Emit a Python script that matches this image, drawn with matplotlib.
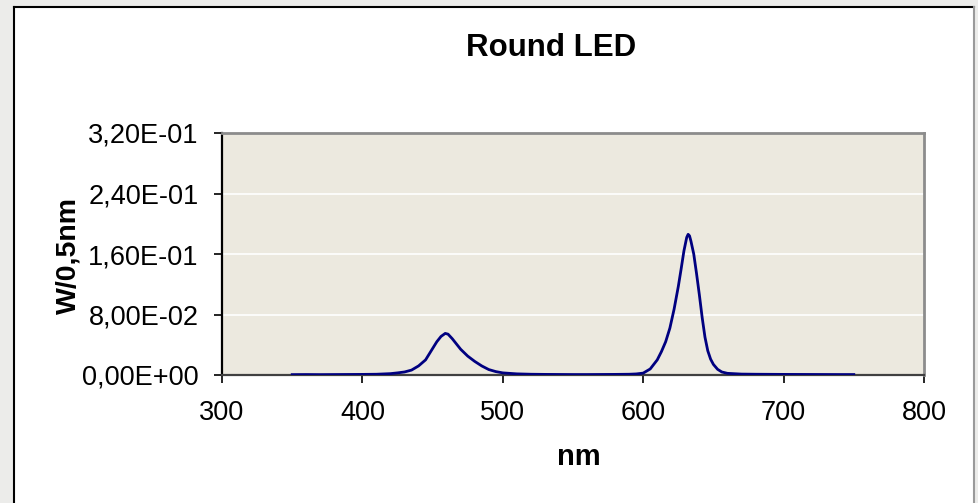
import numpy as np
import matplotlib.pyplot as plt
from matplotlib.patches import Rectangle
from matplotlib.ticker import FuncFormatter, MultipleLocator

plt.rcParams['font.family'] = ['Liberation Sans', 'DejaVu Sans']

# emission spectrum, wavelength in nm and power per 0.5 nm bin
wavelength = [350, 360, 370, 380, 390, 400, 410, 420, 425, 430, 435, 440, 445,
              450, 453, 456, 459, 461, 464, 467, 470, 475, 480, 485, 490, 495,
              500, 510, 520, 530, 540, 550, 560, 570, 580, 590, 595, 600, 605,
              610, 613, 616, 619, 622, 625, 627, 629, 631, 632, 633, 634, 636,
              638, 640, 642, 644, 646, 648, 650, 653, 656, 660, 670, 680, 700,
              720, 740, 750]
power = [0.0005, 0.0006, 0.0005, 0.0006, 0.0007, 0.0008, 0.0010, 0.0018,
         0.0028, 0.0040, 0.0065, 0.0120, 0.0200, 0.0350, 0.0440, 0.0510,
         0.0550, 0.0540, 0.0480, 0.0410, 0.0340, 0.0250, 0.0180, 0.0120,
         0.0072, 0.0045, 0.0028, 0.0015, 0.0010, 0.0008, 0.0007, 0.0006,
         0.0006, 0.0007, 0.0008, 0.0010, 0.0014, 0.0025, 0.0080, 0.0200,
         0.0310, 0.0440, 0.0620, 0.0870, 0.1170, 0.1400, 0.1640, 0.1820,
         0.1860, 0.1840, 0.1770, 0.1600, 0.1340, 0.1060, 0.0760, 0.0500,
         0.0320, 0.0210, 0.0140, 0.0075, 0.0040, 0.0022, 0.0012, 0.0010,
         0.0008, 0.0007, 0.0006, 0.0006]

title = "Round LED"
x_label = "nm"
y_label = "W/0,5nm"

fig = plt.figure(figsize=(9.79, 5.03), dpi=100, facecolor="#ECECEA")

# white chart box with its frame, kept behind the axes
box = Rectangle((14 / 979, -0.05), 960 / 979, 1.05 - 7 / 503,
                transform=fig.transFigure, facecolor="white",
                edgecolor="none", zorder=-10)
fig.patches.append(box)
top = 1 - 7 / 503
frame = [([14, 14], [0, top], "black"),
         ([14, 974], [top, top], "black"),
         ([974, 974], [0, top], "#9a9a9a")]
for xs, ys, c in frame:
    fig.add_artist(plt.Line2D([v / 979 for v in xs], ys,
                              transform=fig.transFigure, color=c, lw=1.5,
                              zorder=-5))

ax = fig.add_axes([222 / 979, 128 / 503, 702 / 979, 242 / 503])
ax.set_zorder(1)
ax.set_facecolor("#ECE9DF")

ax.plot(wavelength, power, color="#000080", lw=2.0, zorder=3)

ax.set_xlim(300, 800)
ax.set_ylim(0, 0.32)
ax.xaxis.set_major_locator(MultipleLocator(100))
ax.yaxis.set_major_locator(MultipleLocator(0.08))
ax.yaxis.set_major_formatter(
    FuncFormatter(lambda v, p: f"{v:.2E}".replace(".", ",")))

ax.grid(axis="y", color="white", lw=1.2)
ax.set_axisbelow(True)

for side in ["top", "right"]:
    ax.spines[side].set_color("#8c8c8c")
    ax.spines[side].set_linewidth(2)
ax.spines["left"].set_color("black")
ax.spines["bottom"].set_color("#404040")
ax.spines["left"].set_linewidth(1.6)
ax.spines["bottom"].set_linewidth(1.6)

ax.tick_params(axis="both", direction="out", length=6, width=1.2,
               labelsize=19.5, color="black")
ax.tick_params(axis="y", pad=11)
ax.tick_params(axis="x", pad=12)

fig.text(551 / 979, 1 - 48 / 503, title, ha="center", va="center",
         fontsize=22.5, fontweight="bold")
fig.text(579 / 979, 1 - 457 / 503, x_label, ha="center", va="center",
         fontsize=21, fontweight="bold")
fig.text(68 / 979, 1 - 255 / 503, y_label, ha="center", va="center",
         fontsize=20.5, fontweight="bold", rotation=90)

fig.savefig("out.png", dpi=100, facecolor=fig.get_facecolor())
